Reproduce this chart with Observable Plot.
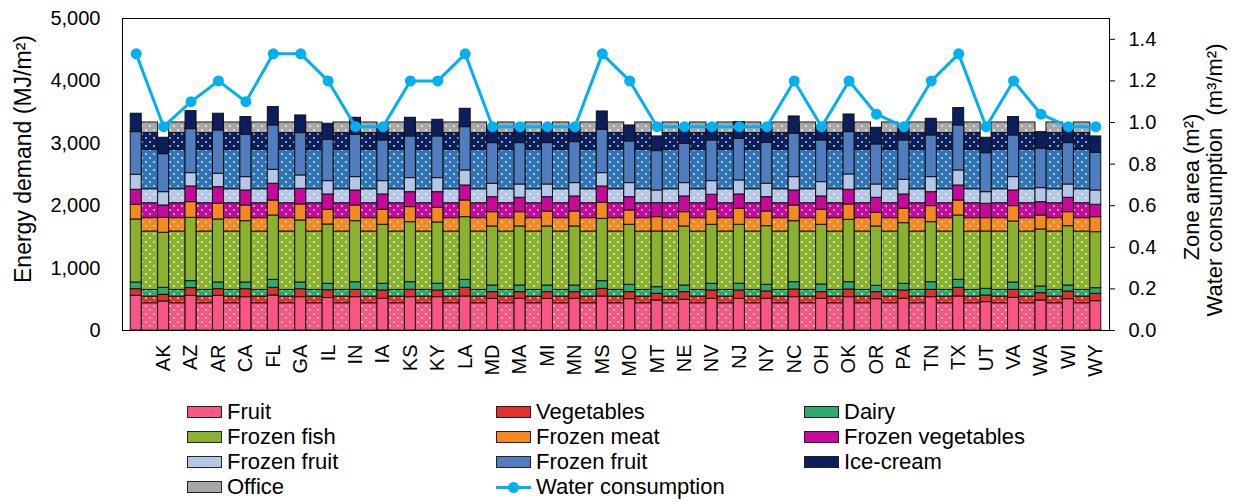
<!DOCTYPE html>
<html><head><meta charset="utf-8">
<script src="https://cdn.jsdelivr.net/npm/d3@7"></script>
<script src="https://cdn.jsdelivr.net/npm/@observablehq/plot@0.6"></script>
<style>
body{margin:0;background:#fff;font-family:"Liberation Sans",Arial,sans-serif;}
#wrap{position:relative;width:1238px;height:502px;overflow:hidden;}
#chart{position:absolute;left:0;top:0;}
.li{position:absolute;font-size:22px;line-height:24px;color:#000;white-space:nowrap;}
.sw{position:absolute;width:33px;height:10px;border:1px solid #222;}
.wl{position:absolute;width:35px;height:3px;background:#00B0F0;}
.wd{position:absolute;width:11px;height:11px;border-radius:50%;background:#00B0F0;}
</style></head><body>
<div id="wrap"><div id="chart"></div><div id="legend"></div></div>
<script>
// ---------------- data ----------------
const categories = ["", "AK","AZ","AR","CA","FL","GA","IL","IN","IA","KS","KY","LA","MD","MA","MI","MN","MS","MO","MT","NE","NV","NJ","NY","NC","OH","OK","OR","PA","TN","TX","UT","VA","WA","WI","WY"];

// energy demand (MJ/m2), one value per category
const fruit            = [556,465,556,556,534,561,534,520,534,508,534,534,545,508,508,508,508,545,502,481,492,508,508,508,534,508,534,502,508,534,545,454,524,481,502,470];
const vegetables       = [106,107,123,106,128,123,128,125,118,133,118,107,139,106,106,106,106,123,112,107,122,133,133,117,123,106,123,112,133,118,139,107,128,117,123,118];
const dairy            = [107,112,112,107,107,128,107,103,122,107,122,107,128,107,107,107,107,123,118,106,107,107,107,107,117,123,117,102,107,122,128,107,117,107, 96, 90];
const frozenFish       = [1010,882,1015,1010,983,1031,994,951,978,946,962,983,1004,946,946,946,946,999,962,893,946,946,946,940,978,957,1000,951,972,962,1031,919,978,914,951,898];
const frozenMeat       = [236,240,251,252,252,241,257,236,252,241,241,236,268,229,229,240,240,257,230,229,229,241,257,235,252,241,246,219,231,257,241,213,246,224,224,240];
const frozenVegetables = [240,198,251,266,240,268,251,245,240,245,240,250,240,241,231,230,241,261,213,225,252,240,229,230,240,213,235,241,229,224,240,231,251,214,231,199];
const frozenFruitLight = [241,213,214,215,214,224,214,214,214,214,225,225,241,215,213,203,214,214,225,203,214,219,225,215,214,230,246,213,235,241,241,186,214,224,213,229];
const frozenFruitBlue  = [683,609,705,694,679,710,678,663,679,652,668,668,694,651,663,663,657,695,668,631,631,652,668,657,695,668,678,642,631,668,721,625,668,631,663,604];
const iceCream         = [295,263,289,268,283,294,283,256,272,194,299,267,294,267,267,267,251,293,256,235,277,240,266,261,277,224,283,267,184,267,278,247,294,267,246,262];

// zone area shares (m2, right axis), same for every state; order = series order incl. office
const zoneArea = [0.131,0.032,0.032,0.281,0.064,0.072,0.067,0.190,0.080,0.051];

// water consumption (m3/m2, right axis)
const water = [1.33,0.98,1.10,1.20,1.10,1.33,1.33,1.20,0.98,0.98,1.20,1.20,1.33,0.98,0.98,0.98,0.98,1.33,1.20,0.98,0.98,0.98,0.98,0.98,1.20,0.98,1.20,1.04,0.98,1.20,1.33,0.98,1.20,1.04,0.98,0.98];

const leftTicks  = [0,1000,2000,3000,4000,5000];
const rightTicks = [0,0.2,0.4,0.6,0.8,1.0,1.2,1.4];

const seriesNames  = ["Fruit","Vegetables","Dairy","Frozen fish","Frozen meat","Frozen vegetables","Frozen fruit","Frozen fruit","Ice-cream","Office"];
const seriesColors = ["#FA5683","#E2302F","#2EAA6B","#8BB22E","#F6891E","#C8079B","#B4C7E7","#4F7DBF","#0B1F5E","#A6A6A6"];
const dotColors    = ["#FA5683","#E2302F","#2EAA6B","#8BB22E","#F6891E","#C8079B","#B4C7E7","#2F74B6","#0B1F5E","#A6A6A6"];

// ---------------- build ----------------
const energy = [fruit,vegetables,dairy,frozenFish,frozenMeat,frozenVegetables,frozenFruitLight,frozenFruitBlue,iceCream];
const RMAX = 1.5, LMAX = 5000, F = LMAX / RMAX;

const solidRows = [];
categories.forEach((c, i) => {
  let acc = 0;
  energy.forEach((arr, k) => { solidRows.push({i, k, y1: acc, y2: acc + arr[i]}); acc += arr[i]; });
});
const zoneRows = [];
for (let i = 0; i < categories.length - 1; i++) {
  let acc = 0;
  zoneArea.forEach((v, k) => { zoneRows.push({i, k, y1: acc * F, y2: (acc + v) * F}); acc += v; });
}
const waterRows = water.map((w, i) => ({i, w}));

const marks = [];
zoneArea.forEach((v, k) => {
  marks.push(Plot.rect(zoneRows.filter(d => d.k === k), {
    x1: d => d.i + 0.2, x2: d => d.i + 0.8, y1: "y1", y2: "y2",
    fill: `url(#dots${k})`, stroke: "#111", strokeWidth: 1
  }));
});
energy.forEach((arr, k) => {
  marks.push(Plot.rect(solidRows.filter(d => d.k === k), {
    x1: d => d.i - 0.2, x2: d => d.i + 0.2, y1: "y1", y2: "y2",
    fill: seriesColors[k], stroke: "#111", strokeWidth: 1
  }));
});
marks.push(Plot.line(waterRows, {x: "i", y: d => d.w * F, stroke: "#00B0F0", strokeWidth: 3}));
marks.push(Plot.dot(waterRows, {x: "i", y: d => d.w * F, r: 5.5, fill: "#00B0F0", stroke: "none"}));
marks.push(Plot.frame({stroke: "#000", strokeWidth: 1}));
marks.push(Plot.axisX(d3.range(categories.length), {tickFormat: i => categories[i], tickRotate: -90, tickSize: 0, tickPadding: 14, label: null, fontSize: 20}));
marks.push(Plot.axisY(leftTicks, {anchor: "left", tickFormat: d3.format(","), tickSize: 0, tickPadding: 22, label: null, fontSize: 20}));
marks.push(Plot.axisY(rightTicks.map(v => v * F), {anchor: "right", tickFormat: d => (d / F).toFixed(1), tickSize: 5, tickPadding: 14, label: null, fontSize: 20}));

const chart = Plot.plot({
  width: 1238, height: 398,
  marginLeft: 122, marginRight: 129, marginTop: 18, marginBottom: 68,
  x: {type: "linear", domain: [-0.5, categories.length - 0.5]},
  y: {domain: [0, LMAX]},
  style: {fontFamily: "'Liberation Sans', Arial, sans-serif", fontSize: "20px", color: "#000", background: "#fff"},
  marks
});

// dotted patterns
const svg = d3.select(chart);
const defs = svg.insert("defs", ":first-child");
dotColors.forEach((c, k) => {
  const p = defs.append("pattern").attr("id", `dots${k}`).attr("patternUnits", "userSpaceOnUse")
    .attr("width", 8).attr("height", 8);
  p.append("rect").attr("width", 8).attr("height", 8).attr("fill", c);
  p.append("circle").attr("cx", 2).attr("cy", 2).attr("r", 0.9).attr("fill", "#fff").attr("opacity", 0.85);
  p.append("circle").attr("cx", 6).attr("cy", 6).attr("r", 0.9).attr("fill", "#fff").attr("opacity", 0.85);
});

// axis titles
svg.append("text").attr("transform", "translate(23,159) rotate(-90)")
  .attr("text-anchor", "middle").attr("dominant-baseline", "central").attr("font-size", 23).attr("fill", "#000")
  .text("Energy demand (MJ/m²)");
svg.append("text").attr("transform", "translate(1199,187) rotate(-90)")
  .attr("text-anchor", "middle").attr("font-size", 22).attr("fill", "#000").text("Zone area (m²)");
svg.append("text").attr("transform", "translate(1222,180) rotate(-90)")
  .attr("text-anchor", "middle").attr("font-size", 22).attr("fill", "#000").text("Water consumption  (m³/m²)");

document.getElementById("chart").appendChild(chart);

// legend
const legendItems = seriesNames.map((n, k) => ({name: n, color: seriesColors[k], type: "box"}))
  .concat([{name: "Water consumption", type: "line"}]);
const colX = [187, 496, 804];
const rowY = [412, 437, 462, 487];
const leg = document.getElementById("legend");
legendItems.forEach((it, j) => {
  const col = j % 3, row = Math.floor(j / 3);
  const x = colX[col], y = rowY[row];
  if (it.type === "box") {
    const s = document.createElement("div");
    s.className = "sw"; s.style.left = x + "px"; s.style.top = (y - 6) + "px"; s.style.background = it.color;
    leg.appendChild(s);
  } else {
    const l = document.createElement("div");
    l.className = "wl"; l.style.left = x + "px"; l.style.top = (y - 1.5) + "px"; leg.appendChild(l);
    const d = document.createElement("div");
    d.className = "wd"; d.style.left = (x + 12) + "px"; d.style.top = (y - 5.5) + "px"; leg.appendChild(d);
  }
  const t = document.createElement("div");
  t.className = "li"; t.textContent = it.name;
  t.style.left = (x + 40) + "px"; t.style.top = (y - 12) + "px";
  leg.appendChild(t);
});
</script>
</body></html>
